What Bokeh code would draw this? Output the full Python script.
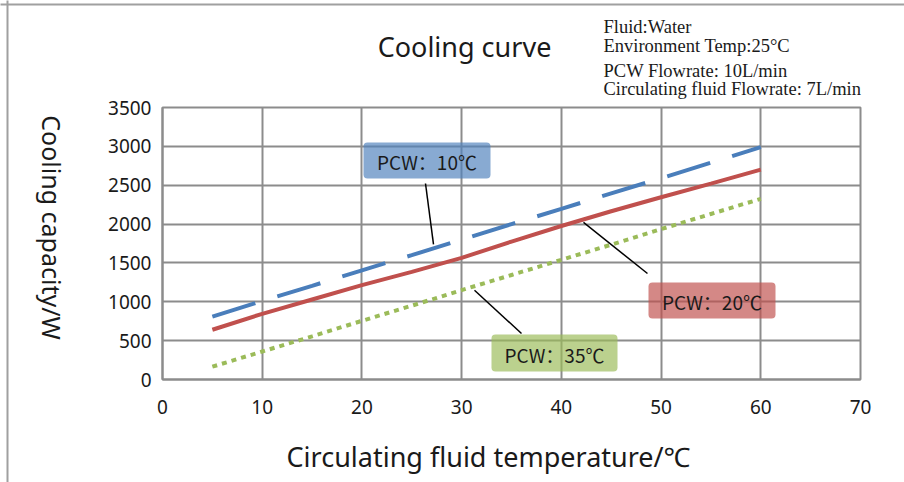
import numpy as np
from bokeh.plotting import figure
from bokeh.models import Range1d, FixedTicker, BoxAnnotation
from bokeh.core.properties import value
from bokeh.embed import file_html
from bokeh.resources import INLINE

# ---- data ----
temps = [5, 10, 15, 20, 25, 30, 35, 40, 45, 50, 55, 60]
pcw10 = [810, 1010, 1205, 1405, 1600, 1800, 2000, 2195, 2395, 2590, 2790, 2990]
pcw20 = [640, 845, 1030, 1215, 1385, 1565, 1775, 1975, 2165, 2345, 2520, 2700]
pcw35 = [165, 360, 555, 755, 950, 1150, 1345, 1540, 1735, 1935, 2130, 2325]
series_names = ["PCW：10℃", "PCW：20℃", "PCW：35℃"]
x_ticks = [0, 10, 20, 30, 40, 50, 60, 70]
y_ticks = [0, 500, 1000, 1500, 2000, 2500, 3000, 3500]
info_lines = ["Fluid:Water", "Environment Temp:25°C",
              "PCW Flowrate: 10L/min", "Circulating fluid Flowrate: 7L/min"]
title_text = "Cooling curve"
x_label = "Circulating fluid temperature/℃"
y_label = "Cooling capacity/W"

# ---- layout (page pixels) ----
W, H = 904, 482
FL, FR, FT, FB = 162, 860, 107, 379
XMAX, YMAX = 70, 3500


def dx(px):
    return (px - FL) / (FR - FL) * XMAX


def dy(py):
    return (FB - py) / (FB - FT) * YMAX


GRID = "#8c8c8c"
TXT = "#1a1a1a"

p = figure(width=W, height=H, x_range=Range1d(0, XMAX), y_range=Range1d(0, YMAX),
           output_backend="svg", toolbar_location=None,
           min_border_left=FL, min_border_right=W - FR,
           min_border_top=FT, min_border_bottom=H - FB)
p.outline_line_color = GRID
p.outline_line_width = 2
p.background_fill_color = "white"
p.border_fill_color = "white"

for ax in (p.xaxis[0], p.yaxis[0]):
    ax.axis_line_color = GRID
    ax.axis_line_width = 2
    ax.major_tick_line_color = None
    ax.minor_tick_line_color = None
    ax.major_tick_out = 0
    ax.major_tick_in = 0
    ax.minor_tick_out = 0
    ax.major_label_text_font = "Noto Sans"
    ax.major_label_text_font_size = "19px"
    ax.major_label_text_color = TXT
p.xaxis.ticker = FixedTicker(ticks=x_ticks)
p.yaxis.ticker = FixedTicker(ticks=y_ticks)
p.xaxis.major_label_standoff = 20
p.yaxis.major_label_standoff = 11
p.xgrid.ticker = FixedTicker(ticks=x_ticks)
p.ygrid.ticker = FixedTicker(ticks=y_ticks)
for g in (p.xgrid[0], p.ygrid[0]):
    g.grid_line_color = GRID
    g.grid_line_width = 2

# ---- outer frame of the chart (left and top edges) ----
p.segment([dx(7), dx(0)], [dy(0), dy(4)], [dx(7), dx(W)], [dy(H), dy(4)],
          line_color="#a0a0a0", line_width=2, level="overlay")

# ---- series ----
p.line(temps, pcw20, line_color="#c0504d", line_width=4)
p.line(temps, pcw35, line_color="#9bbb59", line_width=4, line_dash="5 5")
p.line(temps, pcw10, line_color="#4a7ebb", line_width=4, line_dash="45 23")

# ---- callouts ----
callouts = [
    # series, fill, box (l, r, t, b) page px, leader start page px, anchor page x, offset px
    (pcw10, "#4f81bd", (363, 490, 142, 178), (425, 183), 433, 4),
    (pcw20, "#c0504d", (648, 775, 282, 318), (647, 273), 583, -3),
    (pcw35, "#9bbb59", (491, 617, 334, 371), (521, 333), 474, -4),
]
lx0, ly0, lx1, ly1 = [], [], [], []
for (ser, col, (l, r, t, b), (sx, sy), ax_px, off), name in zip(callouts, series_names):
    p.add_layout(BoxAnnotation(left=dx(l), right=dx(r), top=dy(t), bottom=dy(b),
                               fill_color=col, fill_alpha=0.68, line_color=None,
                               border_radius=4, level="annotation"))
    p.text(x=[dx((l + r) / 2)], y=[dy((t + b) / 2 + 1)], text=[name],
           text_align="center", text_baseline="middle",
           text_font=value("Noto Sans CJK SC"), text_font_size="19px",
           text_color=TXT, level="overlay")
    ax_t = dx(ax_px)
    ay = float(np.interp(ax_t, temps, ser)) + off / (FB - FT) * YMAX
    lx0.append(dx(sx)); ly0.append(dy(sy)); lx1.append(ax_t); ly1.append(ay)
p.segment(lx0, ly0, lx1, ly1, line_color="black", line_width=1.5)

# ---- texts ----
p.text(x=[dx(464)], y=[dy(46)], text=[title_text], text_align="center",
       text_baseline="alphabetic", text_font=value("Noto Sans"),
       text_font_size="27px", text_color=TXT, level="overlay")
p.text(x=[dx(488)], y=[dy(456)], text=[x_label], text_align="center",
       text_baseline="alphabetic", text_font=value("Noto Sans"),
       text_font_size="27px", text_color=TXT, level="overlay")
p.text(x=[dx(51)], y=[dy(227)], text=[y_label], text_align="center",
       text_baseline="middle", angle=-np.pi / 2, text_font=value("Noto Sans"),
       text_font_size="25px", text_color=TXT, level="overlay")
info_base = [26, 45, 70, 88]
p.text(x=[dx(603)] * len(info_lines), y=[dy(b) for b in info_base], text=info_lines,
       text_align="left", text_baseline="alphabetic",
       text_font=value("Liberation Serif"), text_font_size="18.5px",
       text_color=TXT, level="overlay")

open("out.html", "w").write(file_html(p, INLINE))
